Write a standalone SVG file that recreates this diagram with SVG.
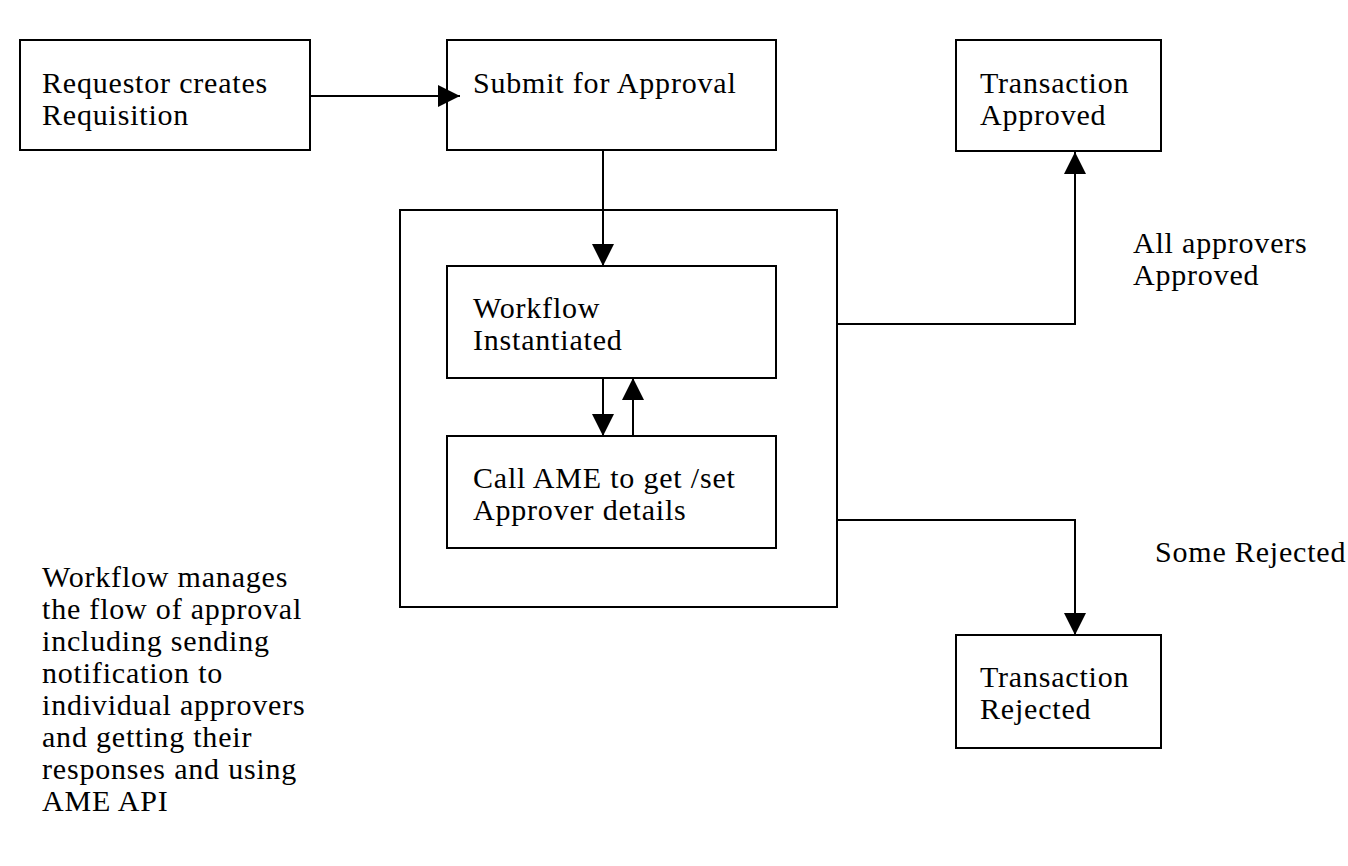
<svg xmlns="http://www.w3.org/2000/svg" width="1348" height="866" viewBox="0 0 1348 866">
<style>
rect{fill:#fff;stroke:#000;stroke-width:2}
text{font-family:"Liberation Serif",serif;font-size:30px;letter-spacing:0.8px;fill:#000}
.c{fill:none;stroke:#000;stroke-width:2}
</style>
<defs><marker id="a" markerWidth="24" markerHeight="24" refX="22" refY="11" orient="auto" markerUnits="userSpaceOnUse" viewBox="0 0 24 24"><path d="M0,0L22,11L0,22z" fill="#000"/></marker></defs>
<rect x="0" y="0" width="1348" height="866" style="stroke:none"/>
<g id="outer"><rect x="400" y="210" width="437" height="397"/></g>
<g id="req"><rect x="20" y="40" width="290" height="110"/><text x="42" y="93">Requestor creates</text><text x="42" y="125">Requisition</text></g>
<g id="submit"><rect x="447" y="40" width="329" height="110"/><text x="473" y="93">Submit for Approval</text></g>
<g id="approved"><rect x="956" y="40" width="205" height="111"/><text x="980" y="93">Transaction</text><text x="980" y="125">Approved</text></g>
<g id="wf"><rect x="447" y="266" width="329" height="112"/><text x="473" y="318">Workflow</text><text x="473" y="350">Instantiated</text></g>
<g id="ame"><rect x="447" y="436" width="329" height="112"/><text x="473" y="488">Call AME to get /set</text><text x="473" y="520">Approver details</text></g>
<g id="rejected"><rect x="956" y="635" width="205" height="113"/><text x="980" y="687">Transaction</text><text x="980" y="719">Rejected</text></g>
<g id="connectors">
<path class="c" d="M310,96H460" marker-end="url(#a)"/>
<path class="c" d="M603,150V266" marker-end="url(#a)"/>
<path class="c" d="M837,324H1075V152" marker-end="url(#a)"/>
<path class="c" d="M837,520H1075V635" marker-end="url(#a)"/>
<path class="c" d="M603,378V436" marker-end="url(#a)"/>
<path class="c" d="M633,436V378" marker-end="url(#a)"/>
</g>
<g id="labels">
<text x="1133" y="253">All approvers</text><text x="1133" y="285">Approved</text>
<text x="1155" y="562">Some Rejected</text>
<text x="42" y="587">Workflow  manages</text>
<text x="42" y="619">the flow of approval</text>
<text x="42" y="651">including sending</text>
<text x="42" y="683">notification to</text>
<text x="42" y="715">individual approvers</text>
<text x="42" y="747">and getting their</text>
<text x="42" y="779">responses and using</text>
<text x="42" y="811">AME API</text>
</g>
</svg>
